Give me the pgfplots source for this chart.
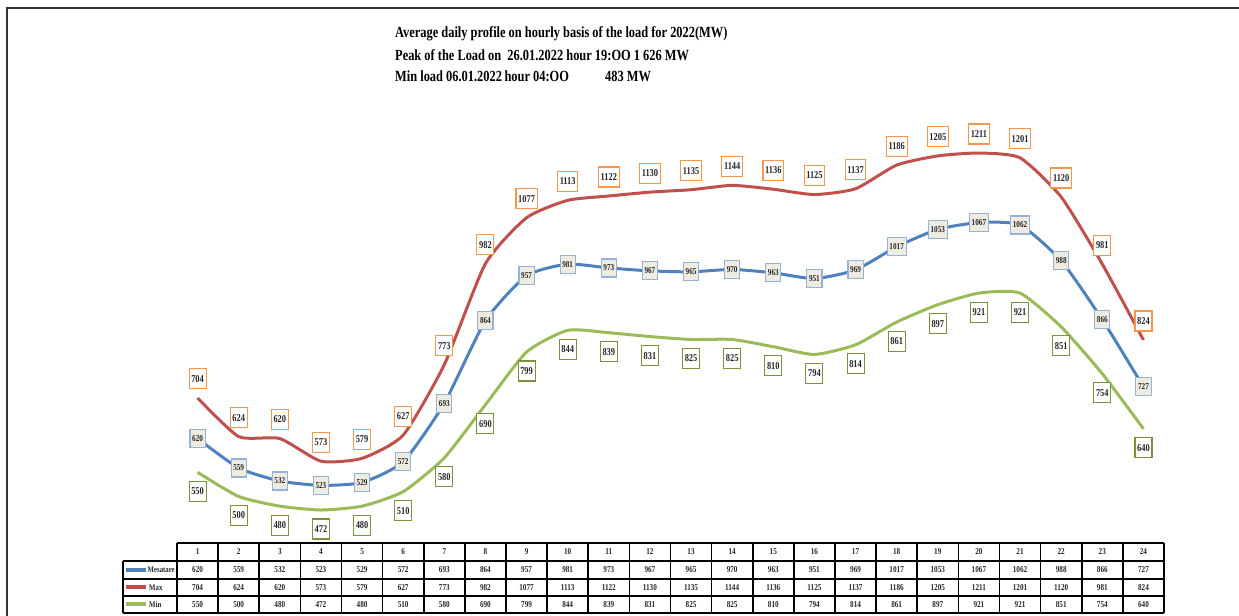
\documentclass[border=0pt]{standalone}
\usepackage{fontspec}
\setmainfont[FakeStretch=0.8]{Liberation Serif}
\newfontfamily\tfont[FakeStretch=0.8]{Liberation Serif}
\usepackage{pgfplots}
\pgfplotsset{compat=1.18}
\usepackage{pgfplotstable}

\definecolor{cavg}{HTML}{4F81BD}
\definecolor{cmax}{HTML}{C0504D}
\definecolor{cmin}{HTML}{9BBB59}
\definecolor{bavg}{HTML}{95B3D7}
\definecolor{favg}{HTML}{EEECE1}
\definecolor{bmax}{HTML}{F79646}
\definecolor{bmin}{HTML}{77933C}
\definecolor{txt}{HTML}{262626}

\pgfplotstableread{
h avg max min
1 620 704 550
2 559 624 500
3 532 620 480
4 523 573 472
5 529 579 480
6 572 627 510
7 693 773 580
8 864 982 690
9 957 1077 799
10 981 1113 844
11 973 1122 839
12 967 1130 831
13 965 1135 825
14 970 1144 825
15 963 1136 810
16 951 1125 794
17 969 1137 814
18 1017 1186 861
19 1053 1205 897
20 1067 1211 921
21 1062 1201 921
22 988 1120 851
23 866 981 754
24 727 824 640
}\data

\begin{document}
\begin{tikzpicture}
\useasboundingbox (0,0) rectangle (1239bp,616bp);
\draw[line width=1.5bp, black!80] (7bp,0) -- (7bp,608bp) -- (1239bp,608bp);
% title
\begin{scope}[every node/.style={anchor=west, inner sep=0pt, text=black, font=\tfont\fontsize{15.5bp}{17bp}\selectfont\bfseries}]
\node at (395bp,582bp) {Average daily profile on hourly basis of the load for 2022(MW)};
\node at (395bp,561bp) {Peak of the Load on\ \ 26.01.2022 hour 19:OO 1 626 MW};
\node at (395bp,540bp) {Min load 06.01.2022\,hour 04:OO};
\node at (605bp,540bp) {483 MW};
\end{scope}
\begin{axis}[at={(177bp,71.2bp)}, anchor=south west, scale only axis,
  width=987bp, height=434.8bp, xmin=0.5, xmax=24.5, ymin=400, ymax=1300,
  hide axis, clip=false, point meta=explicit symbolic]
\addplot[cmin, line width=3bp, smooth, tension=0.35] table[x=h,y=min]{\data};
\addplot[cmax, line width=3bp, smooth, tension=0.35] table[x=h,y=max]{\data};
\addplot[cavg, line width=3bp, smooth, tension=0.35] table[x=h,y=avg]{\data};
% data labels
\addplot[draw=none, nodes near coords, nodes near coords align=center,
  nodes near coords style={yshift=19bp, draw=bmax, fill=white, line width=1.1bp, text=txt,
  inner xsep=2.2bp, minimum height=20bp, font=\fontsize{10.5bp}{11bp}\selectfont\bfseries}]
  table[x=h,y=max,meta=max]{\data};
\addplot[draw=none, nodes near coords, nodes near coords align=center,
  nodes near coords style={yshift=-19bp, draw=bmin, fill=white, line width=1.1bp, text=txt,
  inner xsep=2.2bp, minimum height=20bp, font=\fontsize{10.5bp}{11bp}\selectfont\bfseries}]
  table[x=h,y=min,meta=min]{\data};
\addplot[draw=none, nodes near coords, nodes near coords align=center,
  nodes near coords style={draw=bavg, fill=favg, line width=1.1bp, text=txt,
  inner xsep=2.2bp, minimum height=18bp, font=\fontsize{9bp}{10bp}\selectfont\bfseries}]
  table[x=h,y=avg,meta=avg]{\data};
% table text
\addplot[draw=none, nodes near coords, nodes near coords align=center,
  nodes near coords style={text=txt, inner sep=0pt, font=\fontsize{9bp}{10bp}\selectfont\bfseries}]
  table[x=h,y expr=385.1,meta=h]{\data};
\addplot[draw=none, nodes near coords, nodes near coords align=center,
  nodes near coords style={text=txt, inner sep=0pt, font=\fontsize{9bp}{10bp}\selectfont\bfseries}]
  table[x=h,y expr=347.8,meta=avg]{\data};
\addplot[draw=none, nodes near coords, nodes near coords align=center,
  nodes near coords style={text=txt, inner sep=0pt, font=\fontsize{9bp}{10bp}\selectfont\bfseries}]
  table[x=h,y expr=311.6,meta=max]{\data};
\addplot[draw=none, nodes near coords, nodes near coords align=center,
  nodes near coords style={text=txt, inner sep=0pt, font=\fontsize{9bp}{10bp}\selectfont\bfseries}]
  table[x=h,y expr=276.4,meta=min]{\data};
\end{axis}
% table grid
\begin{scope}[line width=1.6bp]
\draw (177bp,73bp) -- (1164bp,73bp);
\foreach \yy in {55,37,20,3} \draw (123bp,\yy bp) -- (1164bp,\yy bp);
\draw (123bp,55bp) -- (123bp,3bp);
\foreach \k in {0,...,24} \draw ({177bp+41.125bp*\k},73bp) -- ({177bp+41.125bp*\k},3bp);
\end{scope}
\draw[cavg, line width=4bp] (126bp,46bp) -- (146bp,46bp);
\draw[cmax, line width=4bp] (126bp,28.5bp) -- (146bp,28.5bp);
\draw[cmin, line width=4bp] (126bp,11.5bp) -- (146bp,11.5bp);
\begin{scope}[every node/.style={anchor=west, inner sep=0pt, text=txt, font=\fontsize{8.5bp}{10bp}\selectfont\bfseries}]
\node at (147.5bp,46bp) {Mesatare};
\node at (149bp,28.5bp) {Max};
\node at (149bp,11.5bp) {Min};
\end{scope}
\end{tikzpicture}
\end{document}
